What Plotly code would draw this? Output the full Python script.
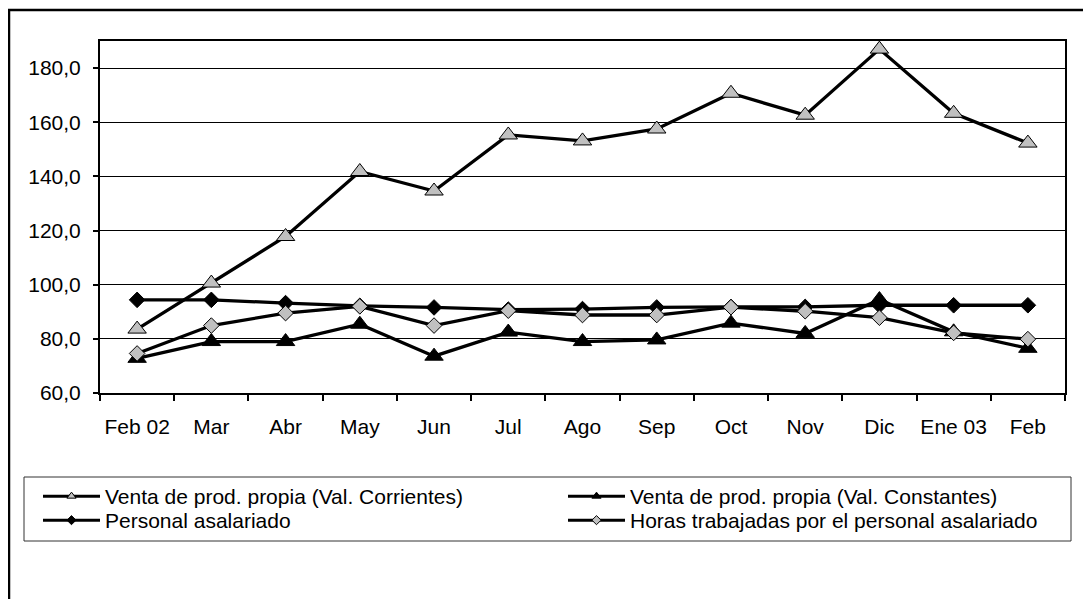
import plotly.graph_objects as go

categories = ["Feb 02", "Mar", "Abr", "May", "Jun", "Jul", "Ago", "Sep", "Oct", "Nov", "Dic", "Ene 03", "Feb"]
venta_corrientes = [83.6, 100.6, 117.8, 141.8, 134.6, 155.3, 153.1, 157.5, 170.7, 162.6, 187.0, 163.3, 152.3]
venta_constantes = [72.8, 79.0, 79.0, 85.4, 73.6, 82.5, 79.0, 79.6, 85.8, 82.0, 94.5, 82.6, 76.5]
personal = [94.4, 94.4, 93.2, 92.2, 91.6, 90.8, 91.0, 91.6, 91.8, 91.8, 92.4, 92.4, 92.4]
horas = [74.6, 84.9, 89.5, 92.0, 84.9, 90.4, 88.8, 88.8, 91.7, 90.2, 87.8, 82.2, 79.9]

names = [
    "Venta de prod. propia (Val. Corrientes)",
    "Venta de prod. propia (Val. Constantes)",
    "Personal asalariado",
    "Horas trabajadas por el personal asalariado",
]
series = [venta_corrientes, venta_constantes, personal, horas]
symbols = ["triangle-up", "triangle-up", "diamond", "diamond"]
fills = ["#C0C0C0", "#000000", "#000000", "#C0C0C0"]
sizes = [16, 16, 12, 12]
legend_sizes = [8, 8, 7, 7]
legend_ids = ["legend", "legend", "legend2", "legend2"]

FONT = "Liberation Sans, Arial, sans-serif"

# page body has an 8px margin; work in screen coordinates and shift
OFF = 8
W, H = 1091 - OFF, 599 - OFF
L, T, R, B = 100, 41, 1065, 393          # plot area in screen pixels
pw, ph = R - L, B - T

def px(x):
    return (x - L) / pw

def py(y):
    return (B - y) / ph

fig = go.Figure()
for name, vals, sym, fc, sz in zip(names, series, symbols, fills, sizes):
    fig.add_trace(go.Scatter(
        x=categories, y=vals, mode="lines+markers", name=name,
        line=dict(color="black", width=3.3),
        marker=dict(symbol=sym, size=sz, color=fc, line=dict(color="black", width=1)),
        showlegend=False,
    ))

# legend-only entries with small markers
for name, sym, fc, lg, ls in zip(names, symbols, fills, legend_ids, legend_sizes):
    fig.add_trace(go.Scatter(
        x=[None], y=[None], mode="lines+markers", name=name,
        line=dict(color="black", width=3),
        marker=dict(symbol=sym, size=ls, color=fc, line=dict(color="black", width=1)),
        showlegend=True, legend=lg,
    ))

leg_common = dict(
    orientation="h", xanchor="left", yanchor="top",
    entrywidth=453, entrywidthmode="pixels", itemwidth=57,
    bgcolor="rgba(0,0,0,0)", borderwidth=0,
    font=dict(family=FONT, size=21, color="black"),
)

fig.update_layout(
    width=W, height=H,
    margin=dict(l=L - OFF, r=W - (R - OFF), t=T - OFF, b=H - (B - OFF), pad=0, autoexpand=False),
    paper_bgcolor="white", plot_bgcolor="white",
    separators=",.",
    font=dict(family=FONT, size=21, color="black"),
    showlegend=True,
    legend=dict(x=px(38), y=py(476), **leg_common),
    legend2=dict(x=px(38), y=py(500), **leg_common),
    xaxis=dict(
        type="category", tickson="boundaries", showgrid=False,
        range=[-0.5, len(categories) - 0.5],
        ticks="outside", ticklen=6, tickwidth=1.5, tickcolor="black",
        showline=True, linecolor="black", linewidth=2, mirror=True,
        tickfont=dict(family=FONT, size=21, color="black"),
        tickangle=0, automargin=False,
        ticklabelstandoff=14,
    ),
    yaxis=dict(
        range=[60, 190], tick0=60, dtick=20, tickformat=".1f",
        showgrid=True, gridcolor="black", gridwidth=1,
        ticks="outside", ticklen=5, tickwidth=1.5, tickcolor="black",
        showline=True, linecolor="black", linewidth=2, mirror=True,
        zeroline=False, automargin=False,
        tickfont=dict(family=FONT, size=21, color="black"),
        ticklabelstandoff=8,
    ),
    shapes=[
        # outer chart frame
        dict(type="rect", xref="paper", yref="paper",
             x0=px(9), x1=px(1120), y0=py(640), y1=py(10),
             line=dict(color="black", width=2.5), layer="below"),
        # legend box
        dict(type="rect", xref="paper", yref="paper",
             x0=px(24), x1=px(1071), y0=py(541), y1=py(477),
             line=dict(color="#333333", width=1), layer="above"),
    ],
)

fig.write_html("out.html")
